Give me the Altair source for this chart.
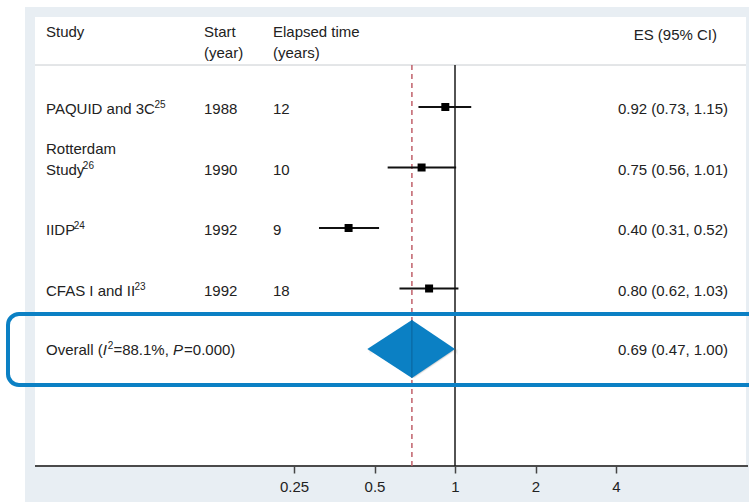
import altair as alt
import pandas as pd

# ---- study-level estimates (ES with 95% CI) ----
study_names = ["PAQUID and 3C", "Rotterdam\nStudy", "IIDP", "CFAS I and II"]
study_refs = ["25", "26", "24", "23"]
start_years = ["1988", "1990", "1992", "1992"]
elapsed_years = ["12", "10", "9", "18"]
effect = [0.92, 0.75, 0.40, 0.80]
ci_low = [0.73, 0.56, 0.31, 0.62]
ci_high = [1.15, 1.01, 0.52, 1.03]

# ---- pooled estimate ----
overall_effect = 0.69
overall_low = 0.47
overall_high = 1.00
overall_i2 = "88.1%"
overall_p = "0.000"

axis_ticks = [0.25, 0.5, 1, 2, 4]

# ---- styling ----
FONT = "Liberation Sans, Arial, Helvetica, sans-serif"
TXT = "#222222"
BLUE = "#0b80c4"
FS = 15
SUP = 10
DIAMOND_HALF = 0.48  # half height of pooled diamond, in rows

ARIAL = {**{c: 556 for c in "0123456789"}, " ": 278, ".": 278, ",": 278, "(": 333,
         ")": 333, "%": 889, "=": 584, "A": 667, "C": 722, "D": 722, "F": 611,
         "I": 278, "L": 556, "O": 778, "P": 667, "Q": 778, "R": 722, "S": 667,
         "U": 722, "a": 556, "d": 556, "e": 556, "l": 222, "m": 833, "n": 556,
         "o": 556, "r": 333, "s": 500, "t": 278, "u": 556, "v": 500, "y": 500}


def text_width(s, size):
    return sum(ARIAL.get(c, 556) for c in s) * size / 1000


rows = list(range(1, len(study_names) + 1))
overall_row = len(study_names) + 1

studies = pd.DataFrame({
    "row": rows,
    "name": [n.split("\n")[-1] for n in study_names],
    "upper": [" ".join(n.split("\n")[:-1]) for n in study_names],
    "start": start_years,
    "elapsed": elapsed_years,
    "es": effect,
    "lo": ci_low,
    "hi": ci_high,
    "label": [f"{e:.2f} ({l:.2f}, {h:.2f})" for e, l, h in zip(effect, ci_low, ci_high)],
})
overall = pd.DataFrame({
    "row": [overall_row],
    "es": [overall_effect],
    "label": [f"{overall_effect:.2f} ({overall_low:.2f}, {overall_high:.2f})"],
})
diamond = pd.DataFrame({
    "x": [overall_low, overall_effect, overall_high],
    "top": [overall_row, overall_row - DIAMOND_HALF, overall_row],
    "bottom": [overall_row, overall_row + DIAMOND_HALF, overall_row],
})
one = pd.DataFrame({"k": [0]})

xscale = alt.Scale(type="log", base=2, domain=[0.25, 4], range=[294, 616], nice=False)
yscale = alt.Scale(domain=[1, 5], range=[107, 349], nice=False, zero=False)
Y = alt.Y("row:Q", scale=yscale, axis=None)

COL_STUDY, COL_START, COL_ELAPSED, COL_ES = 46, 204, 273, 728
ROW_DY = 7

# ---- panel backgrounds and rules ----
bg_grey = alt.Chart(one).mark_rect(color="#e8eef3").encode(
    x=alt.value(25), x2=alt.value(749), y=alt.value(7), y2=alt.value(502))
bg_white = alt.Chart(one).mark_rect(color="white").encode(
    x=alt.value(35), x2=alt.value(746), y=alt.value(17), y2=alt.value(466))
header_rule = alt.Chart(one).mark_rule(color="#c8ccd0", strokeWidth=1).encode(
    x=alt.value(35), x2=alt.value(746), y=alt.value(65))
axis_rule = alt.Chart(one).mark_rule(color="#4a4a4a", strokeWidth=2).encode(
    x=alt.value(35), x2=alt.value(748), y=alt.value(466))

null_line = alt.Chart(pd.DataFrame({"v": [1.0]})).mark_rule(
    color="#1a1a1a", strokeWidth=1.5).encode(
    x=alt.X("v:Q", scale=xscale, axis=alt.Axis(
        values=axis_ticks, format="~g", domain=False, grid=False, ticks=True,
        tickSize=7, tickColor="#444", tickWidth=1.5, labelFontSize=FS,
        labelColor=TXT, labelFont=FONT, labelPadding=6, labelFlush=False,
        labelOverlap=False, title=None, orient="bottom", zindex=2)),
    y=alt.value(65), y2=alt.value(466))

pooled_line = alt.Chart(overall).mark_rule(
    color="#c0606a", strokeWidth=1.5, strokeDash=[5, 4]).encode(
    x=alt.X("es:Q", scale=xscale), y=alt.value(65), y2=alt.value(466))

# ---- study estimates ----
ci = alt.Chart(studies).mark_rule(color="#111", strokeWidth=1.8).encode(
    x=alt.X("lo:Q", scale=xscale), x2="hi:Q", y=Y)
squares = alt.Chart(studies).mark_square(size=64, color="#000", opacity=1).encode(
    x=alt.X("es:Q", scale=xscale), y=Y)

# ---- pooled diamond with soft shadow ----
shadows = [
    alt.Chart(diamond).mark_area(orient="vertical", color="#555", opacity=op,
                                 xOffset=dx, yOffset=dy).encode(
        x=alt.X("x:Q", scale=xscale),
        y=alt.Y("top:Q", scale=yscale, axis=None), y2="bottom:Q")
    for dx, dy, op in [(1, 2, 0.14), (2, 4, 0.10), (3, 6, 0.06)]
]
diamond_mark = alt.Chart(diamond).mark_area(orient="vertical", color=BLUE, opacity=1).encode(
    x=alt.X("x:Q", scale=xscale),
    y=alt.Y("top:Q", scale=yscale, axis=None), y2="bottom:Q")
seam = alt.Chart(pd.DataFrame({"x": [overall_effect],
                               "top": [overall_row - DIAMOND_HALF],
                               "bottom": [overall_row + DIAMOND_HALF]})).mark_rule(
    color="#0a5c90", strokeWidth=0.8).encode(
    x=alt.X("x:Q", scale=xscale),
    y=alt.Y("top:Q", scale=yscale, axis=None), y2="bottom:Q")


def text_layer(df, field, x, align="left", dy=ROW_DY, size=FS, style="normal"):
    return alt.Chart(df).mark_text(
        font=FONT, fontSize=size, color=TXT, align=align,
        baseline="alphabetic", dy=dy, fontStyle=style).encode(
        x=alt.value(x), y=Y, text=f"{field}:N")


def fixed_text(s, x, y, align="left", size=FS):
    return alt.Chart(one).mark_text(font=FONT, fontSize=size, color=TXT, align=align,
                                    baseline="alphabetic").encode(
        x=alt.value(x), y=alt.value(y), text=alt.value(s))


# ---- table text ----
headers = [
    fixed_text("Study", COL_STUDY, 37),
    fixed_text("Start", COL_START, 37),
    fixed_text("(year)", COL_START, 58),
    fixed_text("Elapsed time", COL_ELAPSED, 37),
    fixed_text("(years)", COL_ELAPSED, 58),
    fixed_text("ES (95% CI)", 717, 40, align="right"),
]

name_text = text_layer(studies, "name", COL_STUDY)
upper_text = text_layer(studies[studies["upper"] != ""], "upper", COL_STUDY, dy=ROW_DY - 21)
start_text = text_layer(studies, "start", COL_START)
elapsed_text = text_layer(studies, "elapsed", COL_ELAPSED)
es_text = text_layer(studies, "label", COL_ES, align="right")

sup_layers = []
for r, name, ref in zip(rows, studies["name"], study_refs):
    sx = COL_STUDY + text_width(name, FS) - 1.5
    sup_layers.append(
        alt.Chart(pd.DataFrame({"row": [r], "ref": [ref]})).mark_text(
            font=FONT, fontSize=SUP, color=TXT, align="left",
            baseline="alphabetic", dy=ROW_DY - 6).encode(x=alt.value(sx), y=Y, text="ref:N"))

# overall row: "Overall (I²=88.1%, P=0.000)" with italic I and P
seg_x = COL_STUDY
overall_segments = []
for s, size, style, dy in [("Overall (", FS, "normal", 6), ("I", FS, "italic", 6),
                           ("2", SUP, "normal", 0), (f"={overall_i2}, ", FS, "normal", 6),
                           ("P", FS, "italic", 6), (f"={overall_p})", FS, "normal", 6)]:
    overall_segments.append(
        alt.Chart(pd.DataFrame({"row": [overall_row], "t": [s]})).mark_text(
            font=FONT, fontSize=size, color=TXT, align="left", baseline="alphabetic",
            dy=dy, fontStyle=style).encode(x=alt.value(seg_x), y=Y, text="t:N"))
    seg_x += text_width(s, size) + (1 if style == "italic" else 0)

overall_es_text = text_layer(overall, "label", COL_ES, align="right", dy=6)

# ---- highlight frame around the pooled row ----
frame = alt.Chart(one).mark_rect(
    filled=False, stroke=BLUE, strokeWidth=4, cornerRadius=11).encode(
    x=alt.value(8), x2=alt.value(790), y=alt.value(314), y2=alt.value(385))

chart = alt.layer(
    bg_grey, bg_white, header_rule, axis_rule, null_line, pooled_line, ci, squares,
    *shadows, diamond_mark, seam, *headers, name_text, upper_text, start_text,
    elapsed_text, es_text, *sup_layers, *overall_segments, overall_es_text, frame,
).properties(
    width=749, height=466,
    autosize=alt.AutoSizeParams(type="none"),
    padding={"left": 0, "top": 0, "right": 0, "bottom": 36},
    background="white",
).configure_view(stroke=None)

chart.save("out.html", embed_options={"renderer": "svg", "actions": False})
